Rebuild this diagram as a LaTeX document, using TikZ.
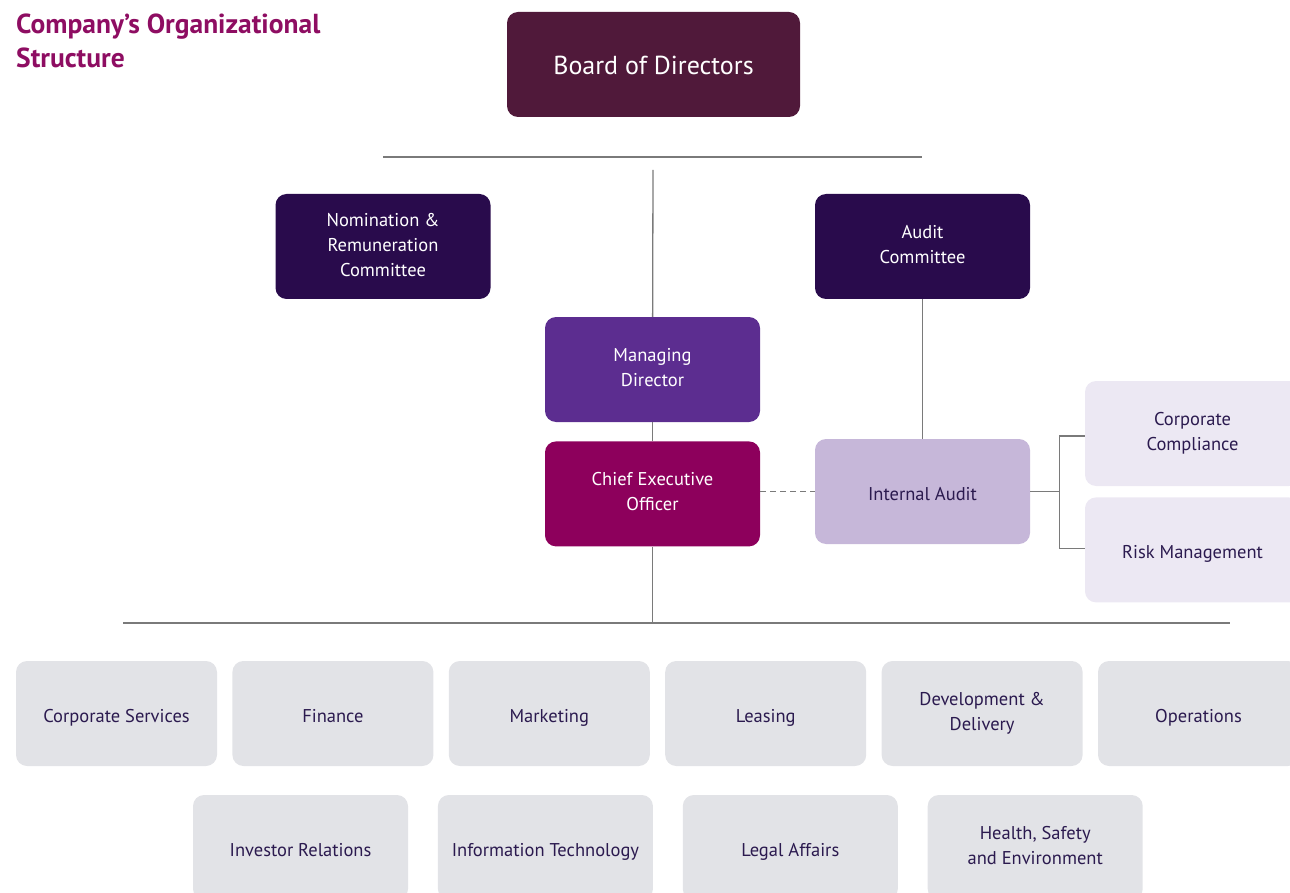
\documentclass[tikz,border=0pt]{standalone}
\usepackage{fontspec}
\setmainfont{PT Sans}
\usetikzlibrary{positioning}
\definecolor{boardplum}{HTML}{50193A}
\definecolor{deeppurple}{HTML}{290B4C}
\definecolor{mdpurple}{HTML}{5C2D90}
\definecolor{ceomagenta}{HTML}{8D005C}
\definecolor{lilac}{HTML}{C6B7D9}
\definecolor{palelilac}{HTML}{ECE8F3}
\definecolor{deptgray}{HTML}{E2E3E7}
\definecolor{inkpurple}{HTML}{2B1A4F}
\definecolor{titlemagenta}{HTML}{8E0D62}
\definecolor{linegray}{HTML}{7A7A7A}
% invisible rules so one- and two-line labels sit alike
\newcommand{\boxtop}{\rule{0pt}{.84\baselineskip}}
\newcommand{\boxbottom}{\rule[-.16\baselineskip]{0pt}{0pt}}
\tikzset{
    base/.style = {
        rectangle, rounded corners=11pt, inner sep=0pt, align=center,
        minimum height=105pt, font=\fontsize{18.5}{25}\selectfont,
        execute at begin node=\boxtop, execute at end node=\boxbottom
    },
    % Boxes
    board/.style     = {base, fill=boardplum, text=white, minimum width=293pt, font=\fontsize{26}{30}\selectfont},
    committee/.style = {base, fill=deeppurple, text=white, minimum width=215pt},
    md/.style        = {base, fill=mdpurple, text=white, minimum width=215pt},
    ceo/.style       = {base, fill=ceomagenta, text=white, minimum width=215pt},
    audit/.style     = {base, fill=lilac, text=inkpurple, minimum width=215pt},
    control/.style   = {base, fill=palelilac, text=inkpurple, minimum width=215pt},
    dept/.style      = {base, fill=deptgray, text=inkpurple, minimum width=201pt},
    deptwide/.style  = {dept, minimum width=215pt},
    % Lines and heading
    link/.style    = {draw=linegray, line width=1.3pt},
    dashlink/.style = {link, dashed, dash pattern=on 6pt off 4pt},
    heading/.style = {font=\fontsize{27.5}{34}\selectfont\bfseries, text=titlemagenta, align=left, inner sep=0pt}
}

\begin{document}
\begin{tikzpicture}[x=1pt, y=-1pt]
    \useasboundingbox (0,0) rectangle (1290,893);
    \clip (0,0) rectangle (1290,893);

    \node (title) [heading, anchor=north west] at (16,14) {Company’s Organizational\\Structure};

    \node (board) [board] at (653.5,64.5) {Board of Directors};
    \node (nomination) [committee] at (383,246.5) {Nomination \&\\Remuneration\\Committee};
    \node (auditcom) [committee] at (922.5,246.5) {Audit\\Committee};

    \node (md) [md] at (652.5,369.5) {Managing\\Director};
    \node (ceo) [ceo, below=19pt of md] {Chief Executive\\Officer};

    \node (intaudit) [audit] at (922.5,491.5) {Internal Audit};
    \node (compliance) [control] at (1192.5,433.5) {Corporate\\Compliance};
    \node (risk) [control, below=11pt of compliance] {Risk Management};

    % departments, first row
    \node (corpserv) [dept] at (116.5,713.5) {Corporate Services};
    \node (finance) [dept, right=15pt of corpserv] {Finance};
    \node (marketing) [dept, right=15pt of finance] {Marketing};
    \node (leasing) [dept, right=15pt of marketing] {Leasing};
    \node (devdel) [dept, right=15pt of leasing] {Development \&\\Delivery};
    \node (operations) [dept, right=15pt of devdel] {Operations};

    % departments, second row
    \node (investor) [deptwide] at (300.5,847.5) {Investor Relations};
    \node (infotech) [deptwide, right=29.5pt of investor] {Information Technology};
    \node (legal) [deptwide, right=29.5pt of infotech] {Legal Affairs};
    \node (hse) [deptwide, right=29.5pt of legal] {Health, Safety\\and Environment};

    % connectors
    \coordinate (topleft) at (383,157);
    \coordinate (topright) at (922,157);
    \coordinate (mdtop) at (653,170);
    \coordinate (deptleft) at (123,623);
    \coordinate (deptright) at (1230,623);

    \draw [link] (topleft) -- (topright);
    \draw [link] (mdtop) -- (md);
    \draw [link] (md) -- (ceo);
    \draw [link] (ceo) -- (ceo |- deptleft);
    \draw [link] (deptleft) -- (deptright);
    \draw [link] (auditcom) -- (intaudit);
    \draw [dashlink] (ceo.east |- intaudit.west) -- (intaudit.west);
    \draw [link] (intaudit.east) -- ++(29,0) coordinate (fork);
    \draw [link] (compliance.west) ++(0,2.5) -| (fork) |- ([yshift=1.5pt]risk.west);
\end{tikzpicture}
\end{document}
